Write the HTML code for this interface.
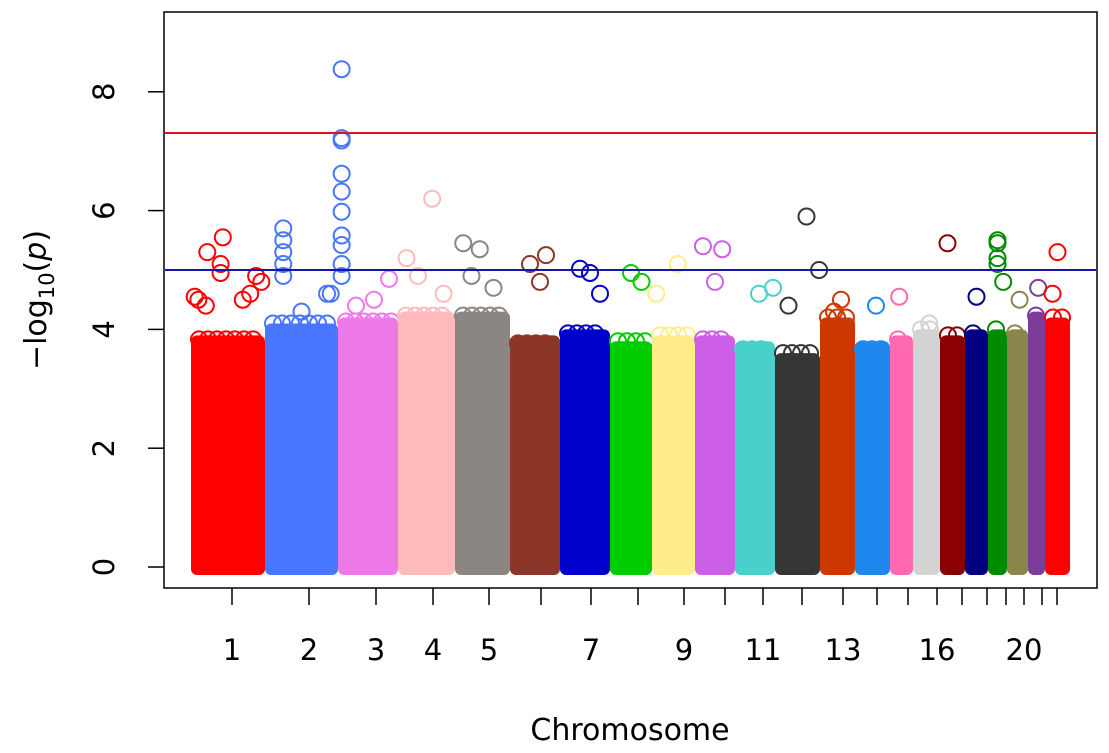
<!DOCTYPE html>
<html><head><meta charset="utf-8"><style>
html,body{margin:0;padding:0;background:#fff}
svg{display:block;font-family:"DejaVu Sans","Liberation Sans",sans-serif}
</style></head><body>
<svg id="chart" width="1109" height="753" viewBox="0 0 1109 753" xmlns="http://www.w3.org/2000/svg">
<g id="blocks"></g>
<g id="points"></g>
<line x1="165" x2="1096" y1="133" y2="133" stroke="#d81818" stroke-width="2"/>
<line x1="165" x2="1096" y1="270" y2="270" stroke="#1414b0" stroke-width="2"/>
<rect x="164" y="12" width="933" height="576" fill="none" stroke="#000" stroke-width="1.5"/>
<g id="yaxis"></g>
<g id="xaxis"></g>
<text x="630" y="740" font-size="30" text-anchor="middle">Chromosome</text>
<text transform="translate(46,300) rotate(-90)" font-size="30" text-anchor="middle">−log<tspan font-size="21" dy="8">10</tspan><tspan dy="-8">(</tspan><tspan font-style="italic">p</tspan>)</text>
</svg>
<script>
const chrNames=["1","2","3","4","5","6","7","8","9","10","11","12","13","14","15","16","17","18","19","20","21","22"];
const chrLen=[74,73,60,57,55,50,50,42,43,40,40,45,35,35,23,27,25,23,19,21,17,25];
const tickPos=[41,118,185,242,298,350,400,447,493,534,572,611,652,686,717,746,771,796,815,833,851,866];
const bulkTop=[3.9,4.1,4.2,4.3,4.3,3.9,4.0,3.8,3.9,3.9,3.8,3.6,4.2,3.8,3.9,4.0,3.9,4.0,4.0,4.0,4.3,4.2];
const colors=["#ff0000","#4876ff","#ee7ae9","#ffbbbb","#8b8682","#8b3626","#0000cd","#00cd00","#ffec8b","#cd5fe6","#48d1cc","#363636","#cd3700","#1e88ee","#ff69b4","#d3d3d3","#8b0000","#000080","#008b00","#8b864e","#7d3c98","#ff0000"];
const peakChr=[0,0,0,0,0,0,0,0,0,0,0, 1,1,1,1,1,1,1,1,1,1,1,1,1,1,1,1,1,1, 2,2,2,3,3,3,3,4,4,4,4,5,5,5,6,6,6,7,7,8,8,9,9,9,10,10,11,11,11,12,12,13,14,15,16,17,18,18,18,18,18,19,20,21,21];
const peakFrac=[0.22,0.43,0.40,0.40,0.05,0.95,0.88,0.1,0.2,0.8,0.7, 0.25,0.25,0.25,0.25,0.25,1.05,1.05,1.05,1.05,1.05,1.05,1.05,1.05,1.05,1.05,0.85,0.9,0.5, 0.3,0.6,0.85,0.15,0.35,0.6,0.8,0.15,0.45,0.3,0.7,0.4,0.72,0.6,0.4,0.6,0.8,0.5,0.75,0.1,0.6,0.2,0.68,0.5,0.95,0.6,0.7,0.98,0.3,0.6,0.4,0.6,0.4,0.6,0.3,0.5,0.5,0.5,0.5,0.5,0.8,0.6,0.6,0.3,0.5];
const peakVal=[5.3,5.55,5.1,4.95,4.55,4.8,4.9,4.5,4.4,4.6,4.5, 5.7,5.5,5.3,5.1,4.9,8.38,7.22,7.18,6.62,6.32,5.98,5.58,5.42,5.1,4.9,4.6,4.6,4.3, 4.4,4.5,4.85,5.2,4.9,6.2,4.6,5.45,5.35,4.9,4.7,5.1,5.25,4.8,5.02,4.95,4.6,4.95,4.8,4.6,5.1,5.4,5.35,4.8,4.7,4.6,5.9,5.0,4.4,4.5,4.3,4.4,4.55,4.1,5.45,4.55,5.5,5.45,5.2,5.1,4.8,4.5,4.7,4.6,5.3];
const NS="http://www.w3.org/2000/svg";
const Y0=567,YU=59.4;
const total=chrLen.reduce((a,b)=>a+b,0);
const starts=[];let acc=0;for(const l of chrLen){starts.push(acc);acc+=l;}
const xs=v=>191+v*(1070-191)/total;
const ys=v=>Y0-v*YU;
function mk(t,a,p){const e=document.createElementNS(NS,t);for(const k in a)e.setAttribute(k,a[k]);p.appendChild(e);return e;}
const gb=document.getElementById('blocks');
chrNames.forEach((n,i)=>{
 const x1=xs(starts[i]),x2=xs(starts[i]+chrLen[i]);
 const top=ys(bulkTop[i]);
 const r=mk('rect',{x:x1,y:top,width:x2-x1,height:575-top,rx:6,fill:colors[i]},gb);
 
 
 for(let x=x1+8;x<x2-6;x+=9){
  const c=mk('circle',{cx:x,cy:top+((Math.round(x)%3)*4),r:8,fill:'none',stroke:colors[i],'stroke-width':2},gb);
  
  
 }
});
const gp=document.getElementById('points');
peakVal.forEach((v,k)=>{
 const i=peakChr[k];
 const f=peakFrac[k]===undefined?0.5:peakFrac[k];
 const c=mk('circle',{cx:xs(starts[i]+f*chrLen[i]),cy:ys(v),r:8,fill:'none',stroke:colors[i],'stroke-width':2},gp);
 
 
});
const gy=document.getElementById('yaxis');
[0,2,4,6,8].forEach(v=>{
 const l=mk('line',{x1:148,x2:164,y1:ys(v),y2:ys(v),stroke:'#000','stroke-width':1.5},gy);
 
 
 const t=mk('text',{transform:`translate(114,${ys(v)}) rotate(-90)`,'font-size':29,'text-anchor':'middle'},gy);
 t.textContent=v;
 
 
});
const gx=document.getElementById('xaxis');
const shown=["1","2","3","4","5","7","9","11","13","16","20"];
tickPos.forEach((p,i)=>{
 const x=xs(p);
 const l=mk('line',{x1:x,x2:x,y1:588,y2:605,stroke:'#000','stroke-width':1.5},gx);
 
 
 if(shown.includes(chrNames[i])){
  const t=mk('text',{x:x,y:660,'font-size':29,'text-anchor':'middle'},gx);
  t.textContent=chrNames[i];
  
  
 }
});
</script>
</body></html>
